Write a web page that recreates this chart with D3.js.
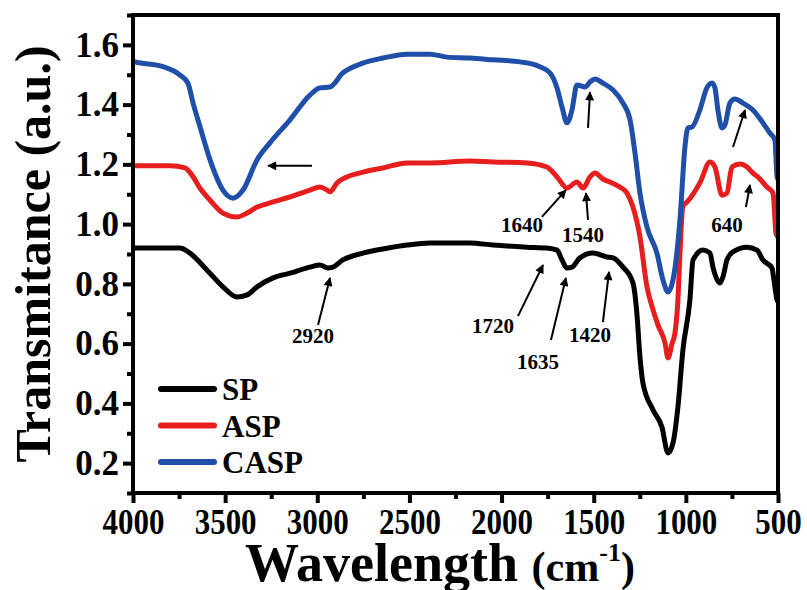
<!DOCTYPE html>
<html>
<head>
<meta charset="utf-8">
<script src="https://cdn.jsdelivr.net/npm/d3@7"></script>
<style>
  html, body { margin: 0; padding: 0; background: #fff; }
  svg { display: block; }
  text { font-family: "Liberation Serif", "Times New Roman", serif; font-weight: bold; fill: #000; }
</style>
</head>
<body>
<svg id="chart" width="807" height="590"></svg>
<script>
// FTIR spectra of SP, ASP and CASP (wavenumber in cm-1, transmittance in a.u.)
const spWavenumber = [4000, 3989, 3745, 3691, 3598, 3512, 3436, 3381, 3327, 3240, 3148, 3040, 2986, 2942, 2915, 2861, 2752, 2644, 2513, 2388, 2171, 2047, 1862, 1754, 1699, 1672, 1645, 1618, 1575, 1504, 1428, 1395, 1341, 1287, 1266, 1249, 1233, 1178, 1130, 1097, 1070, 1043, 1016, 978, 961, 907, 869, 853, 815, 799, 777, 745, 668, 614, 582, 533, 517, 505, 500];
const spValues     = [0.920, 0.920, 0.920, 0.903, 0.846, 0.790, 0.756, 0.763, 0.790, 0.820, 0.836, 0.856, 0.863, 0.853, 0.856, 0.880, 0.903, 0.917, 0.930, 0.937, 0.937, 0.930, 0.923, 0.920, 0.913, 0.880, 0.853, 0.856, 0.887, 0.903, 0.890, 0.887, 0.856, 0.803, 0.703, 0.555, 0.468, 0.378, 0.321, 0.234, 0.267, 0.388, 0.579, 0.746, 0.880, 0.913, 0.903, 0.856, 0.803, 0.823, 0.880, 0.907, 0.923, 0.913, 0.880, 0.853, 0.790, 0.746, 0.740];

const aspWavenumber = [4000, 3989, 3799, 3718, 3680, 3636, 3582, 3512, 3436, 3381, 3327, 3257, 3148, 3040, 2986, 2947, 2931, 2893, 2839, 2752, 2644, 2513, 2388, 2171, 2047, 1862, 1754, 1699, 1645, 1591, 1558, 1520, 1493, 1450, 1401, 1358, 1320, 1287, 1249, 1211, 1178, 1151, 1113, 1097, 1075, 1059, 1043, 1032, 1016, 992, 924, 869, 842, 804, 777, 750, 706, 668, 636, 609, 560, 527, 511, 505];
const aspValues     = [1.195, 1.195, 1.195, 1.188, 1.164, 1.120, 1.080, 1.037, 1.024, 1.037, 1.057, 1.071, 1.091, 1.114, 1.124, 1.114, 1.108, 1.138, 1.158, 1.174, 1.188, 1.205, 1.205, 1.211, 1.208, 1.205, 1.191, 1.158, 1.121, 1.141, 1.121, 1.158, 1.171, 1.151, 1.138, 1.124, 1.104, 1.057, 0.957, 0.790, 0.713, 0.662, 0.602, 0.552, 0.600, 0.636, 0.746, 0.903, 1.060, 1.075, 1.138, 1.208, 1.191, 1.097, 1.104, 1.191, 1.201, 1.191, 1.171, 1.158, 1.124, 1.104, 0.970, 0.960];

const caspWavenumber = [4000, 3989, 3837, 3745, 3702, 3674, 3636, 3582, 3512, 3457, 3403, 3327, 3257, 3148, 3040, 2986, 2931, 2861, 2752, 2644, 2513, 2388, 2296, 2171, 2047, 1900, 1792, 1737, 1699, 1672, 1645, 1618, 1591, 1547, 1520, 1493, 1450, 1395, 1341, 1303, 1276, 1249, 1211, 1157, 1124, 1097, 1070, 1032, 1005, 989, 967, 924, 886, 858, 842, 826, 804, 788, 761, 734, 690, 636, 582, 544, 517, 505, 500];
const caspValues     = [1.545, 1.543, 1.527, 1.499, 1.472, 1.405, 1.325, 1.215, 1.114, 1.087, 1.114, 1.215, 1.272, 1.349, 1.432, 1.456, 1.459, 1.506, 1.539, 1.556, 1.569, 1.569, 1.559, 1.556, 1.550, 1.543, 1.527, 1.506, 1.456, 1.392, 1.339, 1.382, 1.466, 1.459, 1.476, 1.486, 1.472, 1.449, 1.405, 1.349, 1.238, 1.104, 0.990, 0.903, 0.813, 0.773, 0.813, 1.014, 1.258, 1.322, 1.325, 1.382, 1.456, 1.472, 1.456, 1.382, 1.322, 1.332, 1.405, 1.419, 1.405, 1.382, 1.339, 1.305, 1.282, 1.158, 1.150];

const seriesNames  = ["SP", "ASP", "CASP"];
const seriesColors = ["#000000", "#e61e1e", "#1f4fa8"];

const xTickValues = [4000, 3500, 3000, 2500, 2000, 1500, 1000, 500];
const yTickValues = [0.2, 0.4, 0.6, 0.8, 1.0, 1.2, 1.4, 1.6];

// Peak annotations: label position and arrow (tail -> head), all in data units
const peakLabels = [
  { text: "2920", wn: 3023, v: 0.626, tail: [2996, 0.662], head: [2931, 0.820] },
  { text: "1720", wn: 2047, v: 0.659, tail: [1911, 0.692], head: [1775, 0.863] },
  { text: "1635", wn: 1802, v: 0.538, tail: [1732, 0.612], head: [1651, 0.820] },
  { text: "1420", wn: 1520, v: 0.629, tail: [1450, 0.672], head: [1417, 0.840] },
  { text: "1640", wn: 1889, v: 0.997, tail: [1781, 1.024], head: [1651, 1.114] },
  { text: "1540", wn: 1558, v: 0.964, tail: [1531, 1.014], head: [1542, 1.104] },
  { text: "640",  wn: 777,  v: 0.997, tail: [674, 1.057],  head: [652, 1.131] }
];
const extraArrows = [
  { tail: [3029, 1.195], head: [3267, 1.195] },
  { tail: [1531, 1.322], head: [1520, 1.442] },
  { tail: [744, 1.258],  head: [679, 1.382] }
];

const svg = d3.select("#chart");
const margin = { left: 133, right: 29, top: 15, bottom: 97 };
const W = 807, H = 590;

const x = d3.scaleLinear().domain([4000, 500]).range([margin.left, W - margin.right]);
const y = d3.scaleLinear().domain([0.1, 1.7]).range([H - margin.bottom, margin.top]);

const defs = svg.append("defs");
defs.append("clipPath").attr("id", "plotClip")
  .append("rect")
  .attr("x", x(4000)).attr("y", y(1.7))
  .attr("width", x(500) - x(4000)).attr("height", y(0.1) - y(1.7));
defs.append("marker")
  .attr("id", "arrowHead")
  .attr("viewBox", "0 0 10 10")
  .attr("refX", 9).attr("refY", 5)
  .attr("markerWidth", 11).attr("markerHeight", 9)
  .attr("markerUnits", "userSpaceOnUse")
  .attr("orient", "auto")
  .append("path").attr("d", "M0,0 L10,5 L0,10 Z").attr("fill", "#000");

// Spectra
const allSeries = [
  { wn: spWavenumber, v: spValues },
  { wn: aspWavenumber, v: aspValues },
  { wn: caspWavenumber, v: caspValues }
];
const line = d3.line()
  .x(d => x(d[0]))
  .y(d => y(d[1]))
  .curve(d3.curveMonotoneX);

const plot = svg.append("g").attr("clip-path", "url(#plotClip)");
allSeries.forEach((s, i) => {
  const pts = s.wn.map((w, k) => [w, s.v[k]]);
  plot.append("path")
    .datum(pts)
    .attr("d", line)
    .attr("fill", "none")
    .attr("stroke", seriesColors[i])
    .attr("stroke-width", 5)
    .attr("stroke-linejoin", "round")
    .attr("stroke-linecap", "round");
});

// Frame
svg.append("rect")
  .attr("x", x(4000)).attr("y", y(1.7))
  .attr("width", x(500) - x(4000)).attr("height", y(0.1) - y(1.7))
  .attr("fill", "none").attr("stroke", "#000").attr("stroke-width", 4);

// Axes
const xMinor = d3.range(4000, 499, -250).filter(v => v % 500 !== 0);
const yMinor = d3.range(1, 18, 2).map(v => v / 10);

const gx = svg.append("g").attr("transform", `translate(0,${y(0.1)})`);
gx.append("g").call(d3.axisBottom(x).tickValues(xMinor).tickSize(6).tickFormat(""))
  .call(g => g.select(".domain").remove());
gx.append("g").call(d3.axisBottom(x).tickValues(xTickValues).tickSize(10).tickPadding(5).tickFormat(d3.format("d")))
  .call(g => g.select(".domain").remove());
gx.selectAll("line").attr("stroke", "#000").attr("stroke-width", 4);
// condensed tick numerals
gx.selectAll("text")
  .attr("font-size", 36).attr("font-family", "Liberation Serif").attr("font-weight", "bold").attr("fill", "#000")
  .attr("transform", "scale(0.86,1)");

const gy = svg.append("g").attr("transform", `translate(${x(4000)},0)`);
gy.append("g").call(d3.axisLeft(y).tickValues(yMinor).tickSize(6).tickFormat(""))
  .call(g => g.select(".domain").remove());
gy.append("g").call(d3.axisLeft(y).tickValues(yTickValues).tickSize(10).tickPadding(4).tickFormat(d3.format(".1f")))
  .call(g => g.select(".domain").remove());
gy.selectAll("line").attr("stroke", "#000").attr("stroke-width", 4);
gy.selectAll("text").attr("font-size", 35).attr("font-family", "Liberation Serif").attr("font-weight", "bold").attr("fill", "#000");

// Axis titles
svg.append("text")
  .attr("transform", `translate(50,${(y(0.1) + y(1.7)) / 2}) rotate(-90)`)
  .attr("text-anchor", "middle")
  .attr("font-size", 50)
  .text("Transmitance (a.u.)");

const xt = svg.append("text")
  .attr("x", 440).attr("y", 581)
  .attr("text-anchor", "middle");
xt.append("tspan").attr("font-size", 54).text("Wavelength ");
xt.append("tspan").attr("font-size", 42).text("(cm");
xt.append("tspan").attr("font-size", 26).attr("dy", -20).text("-1");
xt.append("tspan").attr("font-size", 42).attr("dy", 20).text(")");

// Legend
const legend = svg.append("g");
seriesNames.forEach((name, i) => {
  const ly = 389 + i * 36.5;
  legend.append("line")
    .attr("x1", 161).attr("x2", 214).attr("y1", ly).attr("y2", ly)
    .attr("stroke", seriesColors[i]).attr("stroke-width", 6).attr("stroke-linecap", "round");
  legend.append("text")
    .attr("x", 222).attr("y", ly + 11)
    .attr("font-size", 31)
    .text(name);
});

// Annotations
const ann = svg.append("g");
function arrow(a) {
  ann.append("line")
    .attr("x1", x(a.tail[0])).attr("y1", y(a.tail[1]))
    .attr("x2", x(a.head[0])).attr("y2", y(a.head[1]))
    .attr("stroke", "#000").attr("stroke-width", 2)
    .attr("marker-end", "url(#arrowHead)");
}
peakLabels.forEach(p => {
  ann.append("text")
    .attr("x", x(p.wn)).attr("y", y(p.v))
    .attr("text-anchor", "middle")
    .attr("dominant-baseline", "central")
    .attr("font-size", 21)
    .text(p.text);
  arrow(p);
});
extraArrows.forEach(arrow);
</script>
</body>
</html>
